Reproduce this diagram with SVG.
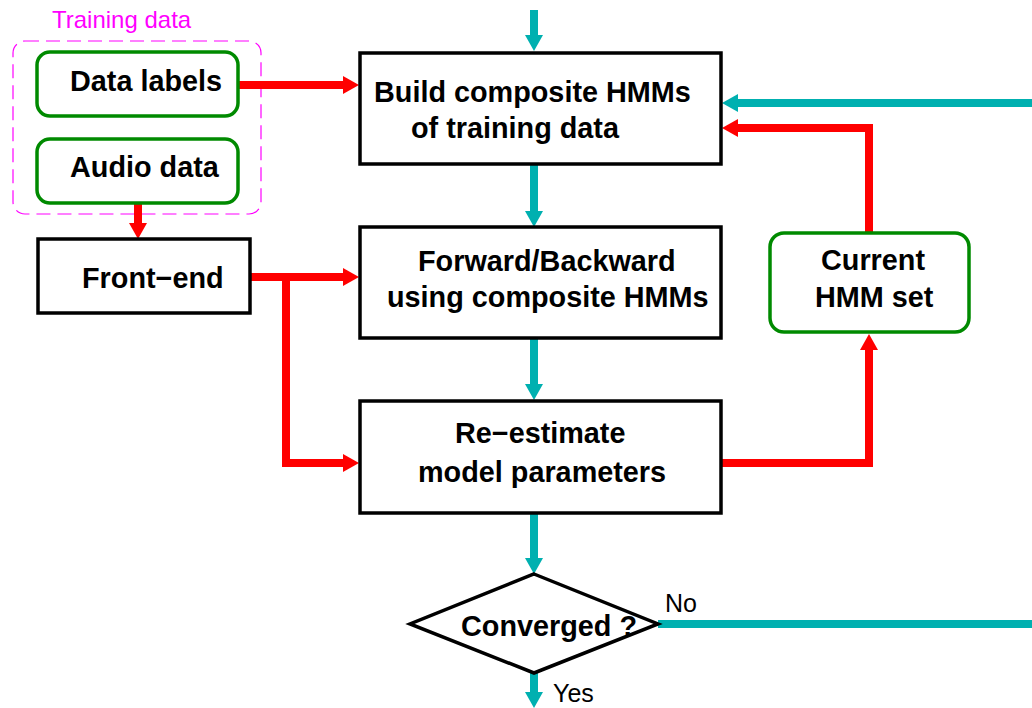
<svg xmlns="http://www.w3.org/2000/svg" width="1032" height="708" viewBox="0 0 1032 708">
<style>
.box{fill:#fff;stroke:#000;stroke-width:3.5}
.rbox{fill:#fff;stroke:#008a00;stroke-width:3.5}
.t{font-family:"Liberation Sans",Arial,sans-serif;font-weight:bold;font-size:28.8px;fill:#000}
.n{font-family:"Liberation Sans",Arial,sans-serif;font-size:25px;fill:#000}
.red{fill:none;stroke:#ff0000;stroke-width:8}
.teal{fill:none;stroke:#00b0b0;stroke-width:8}
</style>
<defs>
<marker id="hr" viewBox="0 -9 16 18" refX="1" refY="0" markerWidth="16" markerHeight="18" markerUnits="userSpaceOnUse" orient="auto"><path d="M0,-9 L16,0 L0,9 z" fill="#ff0000"/></marker>
<marker id="ht" viewBox="0 -9 16 18" refX="1" refY="0" markerWidth="16" markerHeight="18" markerUnits="userSpaceOnUse" orient="auto"><path d="M0,-9 L16,0 L0,9 z" fill="#00b0b0"/></marker>
</defs>
<rect width="1032" height="708" fill="#fff"/>
<g id="training-data">
<rect x="13" y="41" width="248" height="173" rx="12" fill="none" stroke="#ff00ff" stroke-width="1.2" stroke-dasharray="14 7"/>
<text x="52" y="28" font-family="'Liberation Sans',Arial,sans-serif" font-size="24" fill="#ff00ff">Training data</text>
</g>
<g id="connectors">
<path class="teal" d="M534,10 V36" marker-end="url(#ht)"/>
<path class="red" d="M238,85 H344" marker-end="url(#hr)"/>
<path class="red" d="M138,203 V224" marker-end="url(#hr)"/>
<path class="teal" d="M534,164 V212" marker-end="url(#ht)"/>
<path class="red" d="M250,277 H344" marker-end="url(#hr)"/>
<path class="red" d="M286,277 V463 H344" marker-end="url(#hr)"/>
<path class="teal" d="M534,338 V385" marker-end="url(#ht)"/>
<path class="red" d="M722,463 H869 V349" marker-end="url(#hr)"/>
<path class="red" d="M869,233 V128 H737" marker-end="url(#hr)"/>
<path class="teal" d="M1032,103 H737" marker-end="url(#ht)"/>
<path class="teal" d="M534,514 V559" marker-end="url(#ht)"/>
<path class="teal" d="M658,624 H1032"/>
<path class="teal" d="M534,673 V693" marker-end="url(#ht)"/>
</g>
<g id="data-labels">
<rect class="rbox" x="37" y="52" width="201" height="64" rx="13"/>
<text class="t" x="70" y="91">Data labels</text>
</g>
<g id="audio-data">
<rect class="rbox" x="37" y="139" width="201" height="64" rx="13"/>
<text class="t" x="70" y="177">Audio data</text>
</g>
<g id="front-end">
<rect class="box" x="38" y="239" width="212" height="74"/>
<text class="t" x="82" y="288">Front−end</text>
</g>
<g id="build">
<rect class="box" x="360" y="53" width="361" height="111"/>
<text class="t" x="374" y="102">Build composite HMMs</text>
<text class="t" x="411" y="138">of training data</text>
</g>
<g id="forward-backward">
<rect class="box" x="360" y="227" width="361" height="111"/>
<text class="t" x="418" y="271">Forward/Backward</text>
<text class="t" x="387" y="307">using composite HMMs</text>
</g>
<g id="re-estimate">
<rect class="box" x="360" y="401" width="361" height="112"/>
<text class="t" x="455" y="443">Re−estimate</text>
<text class="t" x="418" y="482">model parameters</text>
</g>
<g id="current-hmm-set">
<rect class="rbox" x="770" y="233" width="199" height="99" rx="14"/>
<text class="t" x="821" y="270">Current</text>
<text class="t" x="815" y="307">HMM set</text>
</g>
<g id="converged">
<polygon points="534,574 658,624 534,673 410,624" fill="#fff" stroke="#000" stroke-width="3.5"/>
<text class="t" x="461" y="636">Converged ?</text>
<text class="n" x="665" y="612">No</text>
<text class="n" x="553" y="702">Yes</text>
</g>
</svg>
